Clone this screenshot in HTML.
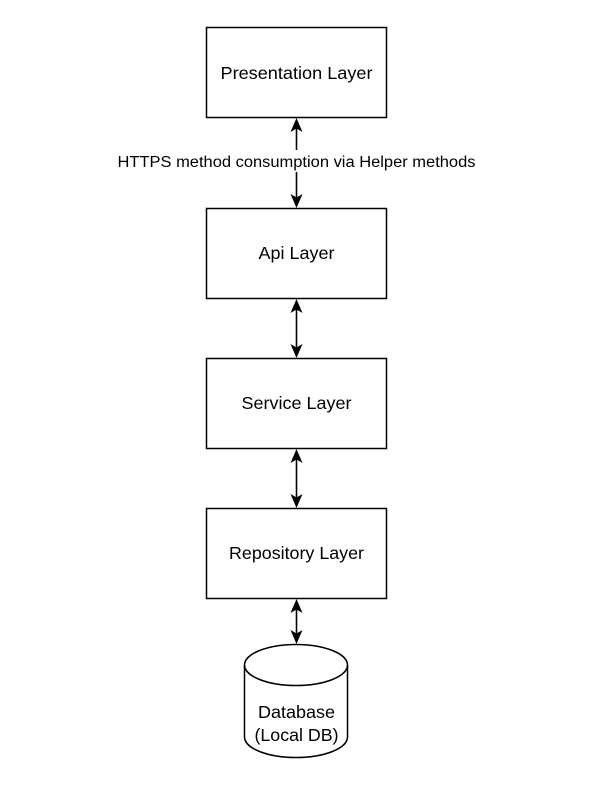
<!DOCTYPE html>
<html><head><meta charset="utf-8"><style>html,body{margin:0;padding:0;background:#fff}svg{display:block}</style></head>
<body>
<svg width="600" height="788" viewBox="0 0 600 788" xmlns="http://www.w3.org/2000/svg" font-family="Liberation Sans, Arial, sans-serif">
<g fill="#fff" stroke="#000" stroke-width="1.5">
<rect x="206.5" y="27.5" width="180" height="90"/>
<rect x="206.5" y="208.5" width="180" height="90"/>
<rect x="206.5" y="358.5" width="180" height="90"/>
<rect x="206.5" y="508.5" width="180" height="90"/>
<path d="M244.5 665 A51.5 20.5 0 0 1 347.5 665 L347.5 737 A51.5 20.5 0 0 1 244.5 737 Z"/>
<path d="M244.5 665 A51.5 20.5 0 0 0 347.5 665" fill="none"/>
</g>
<g stroke="#000" stroke-width="1.6">
<line x1="296.5" y1="128" x2="296.5" y2="150"/>
<line x1="296.5" y1="172" x2="296.5" y2="198"/>
<line x1="296.5" y1="309" x2="296.5" y2="348"/>
<line x1="296.5" y1="459" x2="296.5" y2="498"/>
<line x1="296.5" y1="609" x2="296.5" y2="634"/>
</g>
<g fill="#000">
<path d="M296.5 118 L290.5 132 L296.5 128.5 L302.5 132 Z"/>
<path d="M296.5 208 L290.5 194 L296.5 197.5 L302.5 194 Z"/>
<path d="M296.5 299 L290.5 313 L296.5 309.5 L302.5 313 Z"/>
<path d="M296.5 358 L290.5 344 L296.5 347.5 L302.5 344 Z"/>
<path d="M296.5 449 L290.5 463 L296.5 459.5 L302.5 463 Z"/>
<path d="M296.5 508 L290.5 494 L296.5 497.5 L302.5 494 Z"/>
<path d="M296.5 599 L290.5 613 L296.5 609.5 L302.5 613 Z"/>
<path d="M296.5 644 L290.5 630 L296.5 633.5 L302.5 630 Z"/>
</g>
<rect x="117" y="152" width="360" height="18" fill="#fff"/>
<g font-size="17.5" text-anchor="middle" fill="#000" lengthAdjust="spacingAndGlyphs">
<text x="296.5" y="79" textLength="152" lengthAdjust="spacingAndGlyphs">Presentation Layer</text>
<text x="296.5" y="259" textLength="76" lengthAdjust="spacingAndGlyphs">Api Layer</text>
<text x="296.5" y="409" textLength="110" lengthAdjust="spacingAndGlyphs">Service Layer</text>
<text x="296.5" y="559" textLength="135" lengthAdjust="spacingAndGlyphs">Repository Layer</text>
<text x="296.5" y="718" textLength="77" lengthAdjust="spacingAndGlyphs">Database</text>
<text x="296.5" y="741" textLength="84" lengthAdjust="spacingAndGlyphs">(Local DB)</text>
<text x="296.5" y="167" font-size="15.5" textLength="358" lengthAdjust="spacingAndGlyphs">HTTPS method consumption via Helper methods</text>
</g>
</svg>
</body></html>
